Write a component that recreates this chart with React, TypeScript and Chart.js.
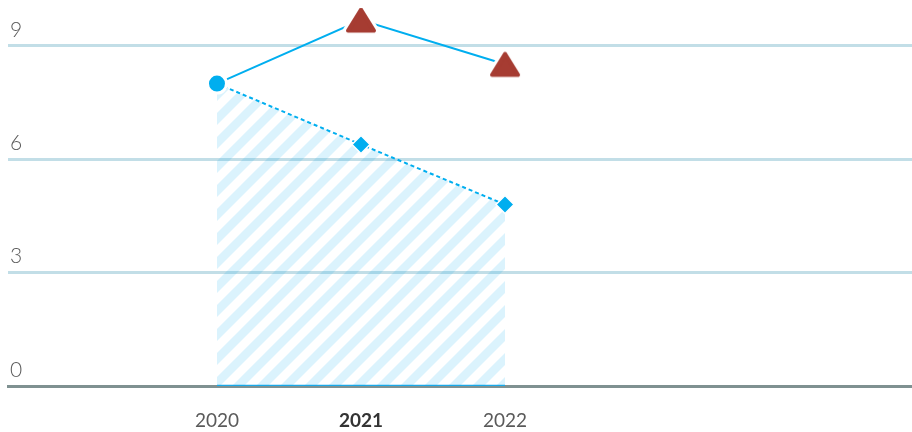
import React, { useEffect, useRef } from "react";
import { Chart, registerables } from "chart.js";

Chart.register(...registerables);

const years = [2020, 2021, 2022];
const seriesTop = [8, 9.68, 8.51];
const seriesDotted = [8, 6.39, 4.8];
const baseline = [0, 0, 0];
const yTicks = [0, 3, 6, 9];
const boldYear = 2021;

const BLUE = "#00aeef";
const RED = "#a63c32";

function makeTriangle(): HTMLCanvasElement {
  const c = document.createElement("canvas");
  const W = 40;
  const H = 36;
  c.width = W;
  c.height = H;
  const g = c.getContext("2d")!;
  const iw = 26;
  const ih = 21;
  const x0 = (W - iw) / 2;
  const y0 = (H - ih) / 2;
  const path = () => {
    g.beginPath();
    g.moveTo(W / 2, y0);
    g.lineTo(x0 + iw, y0 + ih);
    g.lineTo(x0, y0 + ih);
    g.closePath();
  };
  g.lineJoin = "round";
  path();
  g.strokeStyle = "#ffffff";
  g.lineWidth = 10;
  g.stroke();
  g.fillStyle = "#ffffff";
  g.fill();
  path();
  g.fillStyle = RED;
  g.fill();
  g.strokeStyle = RED;
  g.lineWidth = 4;
  g.stroke();
  return c;
}

function makeHatch(ctx: CanvasRenderingContext2D): CanvasPattern {
  const s = 24;
  const c = document.createElement("canvas");
  c.width = s;
  c.height = s;
  const g = c.getContext("2d")!;
  g.strokeStyle = "rgba(0,169,240,0.14)";
  g.lineWidth = 8.5;
  g.lineCap = "square";
  for (const o of [-s, 0, s]) {
    g.beginPath();
    g.moveTo(o - 2, s + 2);
    g.lineTo(o + s + 2, -2);
    g.stroke();
  }
  return ctx.createPattern(c, "repeat")!;
}

export default function App() {
  const ref = useRef<HTMLCanvasElement | null>(null);

  useEffect(() => {
    const canvas = ref.current!;
    const ctx = canvas.getContext("2d")!;
    const tri = makeTriangle();
    const hatch = makeHatch(ctx);

    const chart = new Chart(ctx, {
      type: "line",
      data: {
        datasets: [
          {
            data: years.map((x, i) => ({ x, y: seriesTop[i] })),
            borderColor: BLUE,
            borderWidth: 2,
            pointStyle: ["circle", tri, tri] as any,
            pointRadius: [9.5, 15, 15],
            pointBackgroundColor: BLUE,
            pointBorderColor: "#ffffff",
            pointBorderWidth: [3, 0, 0],
            fill: false,
          },
          {
            data: years.map((x, i) => ({ x, y: seriesDotted[i] })),
            borderColor: BLUE,
            borderWidth: 2,
            borderDash: [4, 3],
            pointStyle: "rectRot",
            pointRadius: [0, 9, 9],
            pointBackgroundColor: BLUE,
            pointBorderColor: "#ffffff",
            pointBorderWidth: 1.5,
            fill: "origin",
            backgroundColor: hatch,
          },
          {
            data: years.map((x, i) => ({ x, y: baseline[i] })),
            borderColor: "#1aa9e9",
            borderWidth: 2.5,
            pointRadius: 0,
            fill: false,
          },
        ],
      },
      options: {
        animation: false,
        responsive: false,
        devicePixelRatio: 1,
        layout: { padding: { left: 8, top: 8, right: 0, bottom: 0 }, autoPadding: false },
        plugins: { legend: { display: false }, tooltip: { enabled: false } },
        scales: {
          x: {
            type: "linear",
            min: 2018.549,
            max: 2024.826,
            grid: { display: false, drawTicks: false },
            border: { display: true, color: "#7f9191", width: 3 },
            afterBuildTicks: (s: any) => {
              s.ticks = years.map((v) => ({ value: v }));
            },
            afterFit: (s: any) => {
              s.height = 46;
              s.paddingLeft = 0;
              s.paddingRight = 0;
            },
            ticks: {
              padding: 23,
              autoSkip: false,
              maxRotation: 0,
              callback: (v: any) => String(v),
              color: (c: any) => (c.tick && c.tick.value === boldYear ? "#333333" : "#5a5a5a"),
              font: (c: any) => ({
                family: "Lato, 'Noto Sans', sans-serif",
                size: 19,
                weight: c.tick && c.tick.value === boldYear ? "bold" : "normal",
              }),
            },
          },
          y: {
            type: "linear",
            min: 0,
            max: 10,
            afterBuildTicks: (s: any) => {
              s.ticks = yTicks.map((v) => ({ value: v }));
            },
            afterFit: (s: any) => {
              s.width = 0;
              s.paddingTop = 0;
              s.paddingBottom = 0;
            },
            border: { display: false },
            grid: { color: "#c2dee7", lineWidth: 3, drawTicks: false },
            ticks: {
              mirror: true,
              padding: 2,
              labelOffset: -16,
              color: "#5a5a5a",
              font: { family: "Lato, 'Noto Sans', sans-serif", size: 21, weight: 300 },
              callback: (v: any) => String(v),
            },
          },
        },
      },
    });
    return () => chart.destroy();
  }, []);

  return (
    <div style={{ position: "fixed", left: 0, top: 0, width: 912, height: 432 }}>
      <canvas ref={ref} width={912} height={432} style={{ display: "block", width: 912, height: 432 }} />
    </div>
  );
}
